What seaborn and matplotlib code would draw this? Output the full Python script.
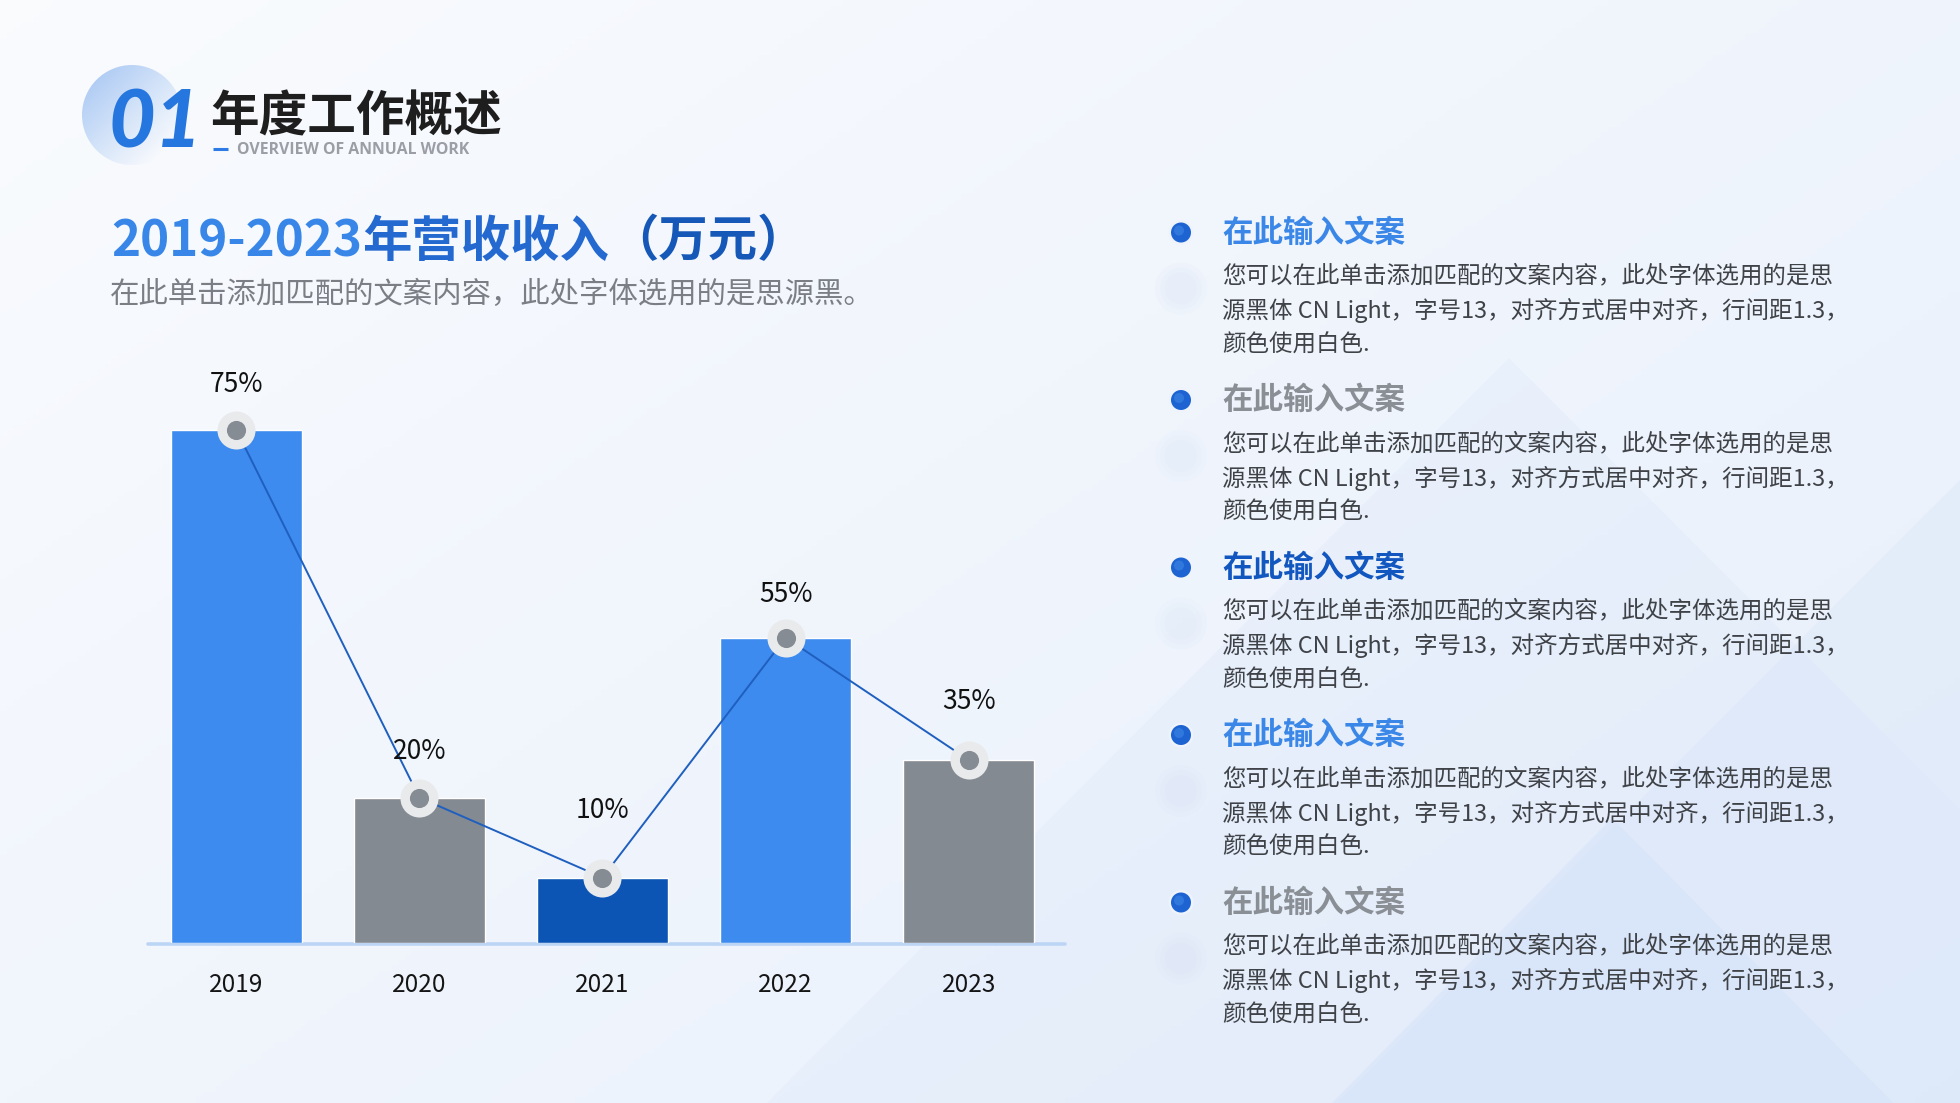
import numpy as np
import matplotlib
matplotlib.use("Agg")
import matplotlib.pyplot as plt
import seaborn as sns
from matplotlib.patches import Circle, Polygon

# ---------------- data ----------------
years = ["2019", "2020", "2021", "2022", "2023"]
bar_values = [75, 21.2, 9.5, 44.6, 26.7]
pct_labels = ["75%", "20%", "10%", "55%", "35%"]
bar_colors = ["#3d8bef", "#848a91", "#0c55b5", "#3d8bef", "#848a91"]

title_parts = ["2019-2023", "年营收收入", "（万元）"]
subtitle = "在此单击添加匹配的文案内容，此处字体选用的是思源黑。"
section_no = "01"
section_title = "年度工作概述"
section_en = "OVERVIEW OF ANNUAL WORK"
item_titles = ["在此输入文案"] * 5
item_title_colors = ["#3b87e8", "#8a8f96", "#1257c0", "#3b87e8", "#8a8f96"]
item_body = ["您可以在此单击添加匹配的文案内容，此处字体选用的是思",
             "源黑体 CN Light，字号13，对齐方式居中对齐，行间距1.3，",
             "颜色使用白色."]

# ---------------- figure ----------------
W, H, DPI = 1960, 1103, 100
sns.set_theme(style="white")
plt.rcParams['font.family'] = ['Noto Sans CJK SC', 'DejaVu Sans']

fig = plt.figure(figsize=(W / DPI, H / DPI), dpi=DPI)

bg = fig.add_axes([0, 0, 1, 1], zorder=-10)
yy, xx = np.mgrid[0:1:200j, 0:1:300j]
t = np.clip(xx * 0.55 + yy * 0.45, 0, 1)
c0 = np.array([0.978, 0.985, 0.996])
c1 = np.array([0.905, 0.937, 0.985])
img = c0 + (c1 - c0) * t[..., None]
bg.imshow(img, extent=[0, W, H, 0], aspect='auto', zorder=0)
bg.set_xlim(0, W)
bg.set_ylim(H, 0)
bg.axis('off')

# decorative triangles
tri_specs = [
    ([(1509, 358), (760, 1110), (2260, 1110)], "#dbe7f9", 0.30),
    ([(1990, 450), (1330, 1110), (2650, 1110)], "#d6e4f8", 0.35),
    ([(1612, 818), (1325, 1110), (1900, 1110)], "#d3e2f8", 0.45),
]
for pts, col, a in tri_specs:
    bg.add_patch(Polygon(pts, closed=True, facecolor=col, edgecolor='none', alpha=a, zorder=1))

# header circle with gradient
circ = Circle((132, 115), 50, transform=bg.transData, facecolor='none', edgecolor='none')
bg.add_patch(circ)
gy, gx = np.mgrid[0:1:100j, 0:1:100j]
gt = np.clip((gx * 0.6 + gy * 0.6), 0, 1)
rgba = np.zeros((100, 100, 4))
rgba[..., 0] = 0.62
rgba[..., 1] = 0.76
rgba[..., 2] = 0.95
rgba[..., 3] = np.clip(0.95 - gt * 0.95, 0, 1)
im = bg.imshow(rgba, extent=[82, 182, 165, 65], aspect='auto', zorder=2)
im.set_clip_path(circ)
bg.set_xlim(0, W)
bg.set_ylim(H, 0)

bg.text(108, 148, section_no, family=['Lato', 'DejaVu Sans'], fontweight='black',
        fontstyle='italic', fontsize=58, color='#2676e0', va='baseline', ha='left', zorder=3)
bg.text(210, 117, section_title, fontsize=35, fontweight='bold', color='#1e1e1e',
        va='center', ha='left', zorder=3)
bg.plot([213, 228], [149, 149], color='#2f7be6', lw=2.2, zorder=3, solid_capstyle='butt')
bg.text(237, 149.5, section_en, family=['Open Sans', 'DejaVu Sans'], fontweight='bold',
        fontsize=11.4, color='#9b9fa5', va='center', ha='left', zorder=3)

# title with stepped gradient
renderer = fig.canvas.get_renderer()
title_colors = ["#3887e8", "#2469d0", "#1658b8"]
tkw = dict(fontsize=35.6, fontweight='bold', va='center', ha='left', zorder=3)


def ink_w(s):
    tt = bg.text(0, 0, s, **tkw)
    w = tt.get_window_extent(renderer=renderer).width
    tt.remove()
    return w


full = "".join(title_parts)
x0 = 111
pos = 0
for part, col in zip(title_parts, title_colors):
    if pos == 0:
        xs = x0
    else:
        xs = x0 + ink_w(full[:pos + 1]) - ink_w(full[pos])
    bg.text(xs, 242, part, color=col, **tkw)
    pos += len(part)

bg.text(110, 294.5, subtitle, fontsize=21.2, color='#7b7f85', va='center', ha='left', zorder=3)

# right side items
item_y = [232.5, 400, 567.5, 735, 902.5]
for i, yc in enumerate(item_y):
    for rr, aa in [(26, 0.10), (21, 0.12), (16, 0.14)]:
        bg.add_patch(Circle((1181, yc + 56), rr, facecolor='#d5e2f6', edgecolor='none', alpha=aa, zorder=2))
    bg.add_patch(Circle((1181, yc), 12.5, facecolor='#eef3fc', edgecolor='none', zorder=2))
    bg.add_patch(Circle((1181, yc), 10, facecolor='#1d64d2', edgecolor='none', zorder=3))
    bg.add_patch(Circle((1179, yc - 2), 5, facecolor='#3f86e6', edgecolor='none', alpha=0.6, zorder=3))
    bg.text(1222, yc, item_titles[i], fontsize=22, fontweight='bold', color=item_title_colors[i],
            va='center', ha='left', zorder=3)
    for k, line in enumerate(item_body):
        bg.text(1222, yc + 43.75 + k * 34.4, line, fontsize=16.9, color='#3f4247',
                va='center', ha='left', zorder=3)

# ---------------- chart ----------------
ax = fig.add_axes([147.5 / W, (H - 942.5) / H, (1065 - 147.5) / W, (942.5 - 300) / H])
ax.patch.set_alpha(0)
sns.barplot(x=years, y=bar_values, hue=years, palette=bar_colors, width=0.715,
            saturation=1, legend=False, ax=ax, zorder=2)
ax.set_xlim(-0.485, 4.526)
ax.set_ylim(0, 94)
for s in ax.spines.values():
    s.set_visible(False)
ax.axhline(-0.27, color='#bcd5f5', lw=2.6, zorder=1, clip_on=False)
ax.set_yticks([])
ax.set_xlabel('')
ax.set_ylabel('')
ax.tick_params(axis='x', length=0, pad=21.5, labelsize=17.5, labelcolor='#151515')
ax.grid(False)

xs = np.arange(len(years))
ax.plot(xs, bar_values, color='#1f5fbf', lw=1.4, zorder=3)
ax.scatter(xs, bar_values, s=750, color='#e9eaec', zorder=4, clip_on=False, linewidths=0)
ax.scatter(xs, bar_values, s=190, color='#868c93', zorder=5, clip_on=False, linewidths=0)

label_offsets = [33, 33, 48, 31, 42]
for i in range(len(years)):
    ax.annotate(pct_labels[i], (i, bar_values[i]), xytext=(0, label_offsets[i]),
                textcoords='offset points', ha='center', va='center', fontsize=19,
                color='#111111', zorder=6)

fig.savefig("out.png", dpi=DPI)
